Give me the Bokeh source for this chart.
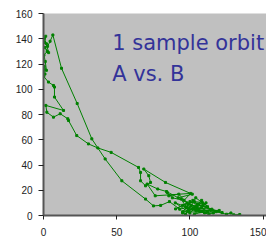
from bokeh.plotting import figure
from bokeh.models import FixedTicker, Range1d, Label, ColumnDataSource
from bokeh.embed import file_html
from bokeh.resources import INLINE

# Orbit sample: B (x) and A (y) in trajectory order
orbit_b = [104, 99, 108, 95, 102, 112, 97, 90, 100, 106, 93, 86, 80, 75.1,
           69.7, 53.5, 42.1, 33, 23, 12.3, 6.4,
           4.5, 2.8, 0.8, 1.5, 0.4, 2.0, 3.5, 1.0, 2.5, 0.3, 1.2, 2.0, 0.5, 1.0, 0.2,
           3.4, 6.8, 7.5, 7.5, 13.7, 1.6, 2.3, 6.8, 11.4, 16.6, 17.1, 22.7, 30.7, 37.1, 46.2, 64.9,
           66.3, 66.3, 69.7, 73.1, 71.9, 68.5, 83.3, 101.6, 92, 84, 78, 70.8, 76.3,
           100.5, 96, 88, 84.5, 85.6, 92.4, 98, 90.2, 95, 103, 108.4, 99, 94, 105, 110, 101, 97,
           104, 112, 107, 98, 115, 103, 109, 118, 100, 95, 111, 106, 120, 113, 102, 108, 116,
           99, 105, 122, 114, 125, 128, 130, 134]
orbit_a = [4, 9, 6, 3, 12, 3, 7, 10, 2, 9, 5, 11, 8, 7.6,
           13, 27.5, 44.8, 60.7, 88.7, 116.6, 143,
           138, 134, 137, 142, 140, 136, 129, 133, 130, 127, 122, 115, 118, 112, 110,
           105.7, 103, 101.7, 93.8, 83.2, 87.2, 81.8, 77.9, 80.6, 76.6, 75.2, 63.3, 56.7, 53.5, 50, 38.1,
           34.1, 27.5, 23.5, 26.2, 31.5, 36.8, 26.2, 16.9, 14, 19, 21, 24.9, 15.6,
           17.5, 12, 14, 18.2, 15.6, 16.9, 10, 5.2, 8, 11, 10.3, 4, 13, 6, 2, 8, 1,
           14, 7, 3, 6, 5, 1, 8, 3, 11, 2, 10, 4, 4, 1, 5, 12, 2,
           3, 9, 2.3, 4, 1, 2, 0.5, 0.8]

y_ticks = [0, 20, 40, 60, 80, 100, 120, 140, 160]
x_ticks = [0, 50, 100, 150]
title_lines = ["1 sample orbit", "A vs. B"]

src = ColumnDataSource(data=dict(b=orbit_b, a=orbit_a))

p = figure(width=266, height=241, output_backend="svg", toolbar_location=None,
           x_range=Range1d(0, 152.3), y_range=Range1d(0, 160),
           min_border_left=43, min_border_right=0, min_border_top=13, min_border_bottom=26)
p.background_fill_color = "#C0C0C0"
p.border_fill_color = "white"
p.outline_line_color = None
p.grid.grid_line_color = None

for ax in (p.xaxis[0], p.yaxis[0]):
    ax.axis_line_color = "#555555"
    ax.axis_line_width = 2
    ax.major_tick_line_color = "#222222"
    ax.major_tick_in = 0
    ax.minor_tick_line_color = None
    ax.major_label_text_font = "Liberation Sans"
    ax.major_label_text_font_size = "10px"
    ax.major_label_text_color = "#222222"

p.yaxis.ticker = FixedTicker(ticks=y_ticks)
p.xaxis.ticker = FixedTicker(ticks=x_ticks)
p.yaxis.major_tick_out = 5
p.xaxis.major_tick_out = 4
p.yaxis.major_label_standoff = 6
p.xaxis.major_label_standoff = 8

p.line("b", "a", source=src, line_color="#008000", line_width=1)
p.scatter("b", "a", source=src, marker="square", size=2,
          fill_color="#008000", line_color="#008000")

for i, t in enumerate(title_lines):
    p.add_layout(Label(x=46.9, y=137.0 - i * 24.6, text=t,
                       text_font="DejaVu Sans", text_font_size="21px",
                       text_color="#333399", text_baseline="alphabetic"))

open("out.html", "w").write(file_html(p, INLINE))
